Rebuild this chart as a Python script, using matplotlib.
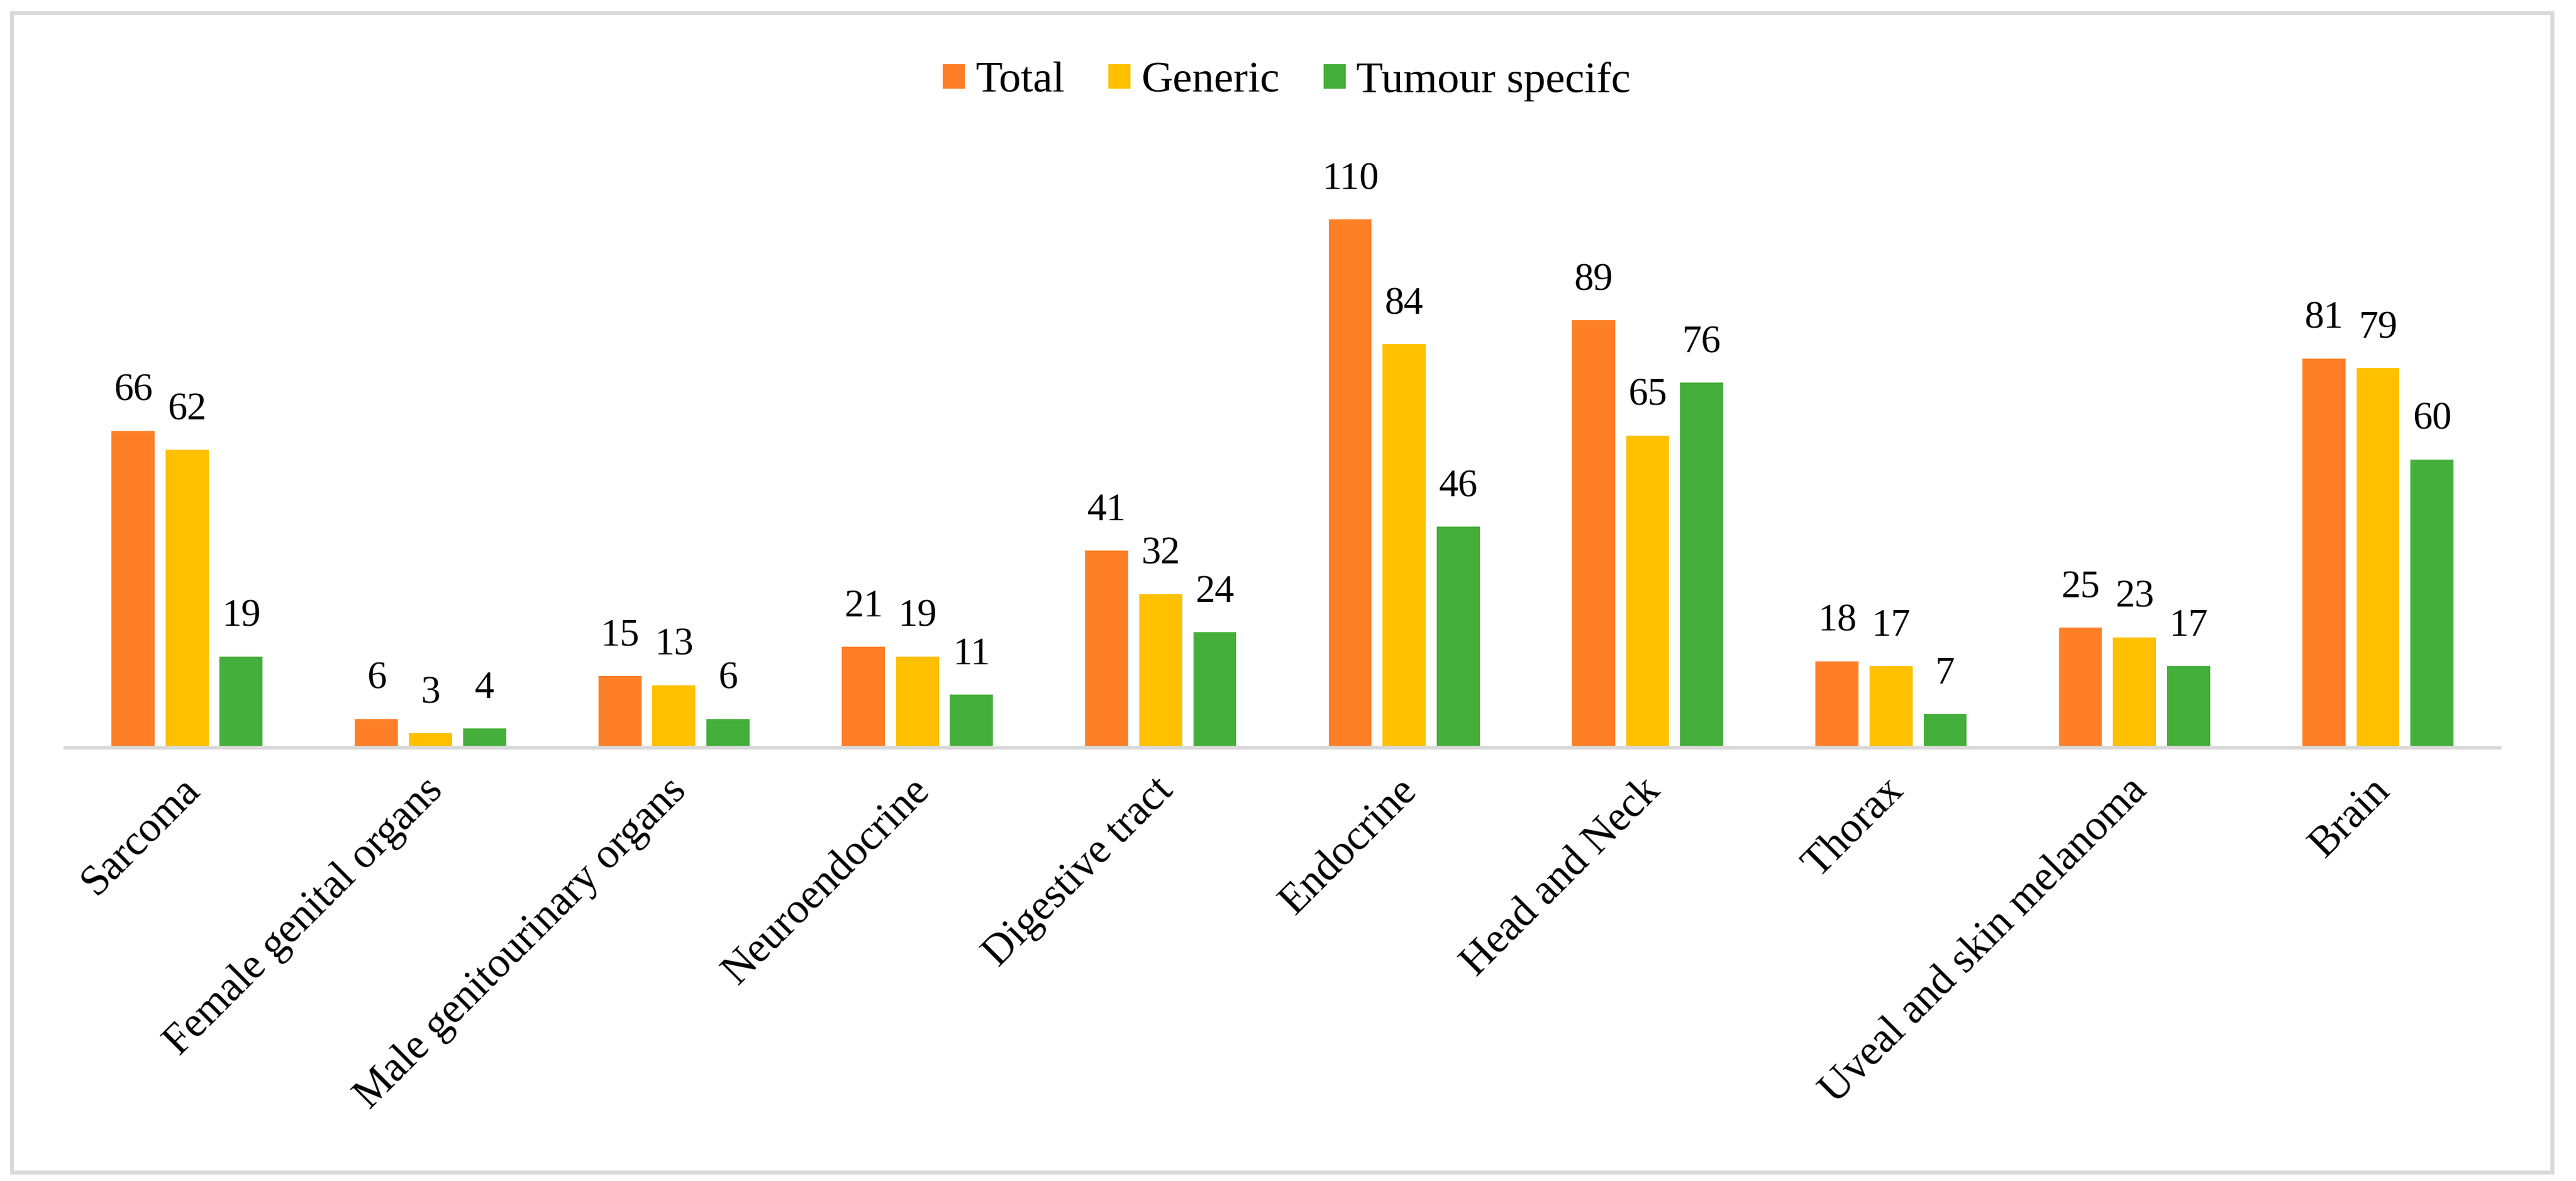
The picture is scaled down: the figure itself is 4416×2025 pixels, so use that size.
import numpy as np
import matplotlib
matplotlib.use("Agg")
import matplotlib.pyplot as plt
from matplotlib.patches import Rectangle
from matplotlib.transforms import ScaledTranslation

plt.rcParams['font.family'] = ['Liberation Serif', 'DejaVu Serif']

categories = ["Sarcoma", "Female genital organs", "Male genitourinary organs",
              "Neuroendocrine", "Digestive tract", "Endocrine", "Head and Neck",
              "Thorax", "Uveal and skin melanoma", "Brain"]
total = [66, 6, 15, 21, 41, 110, 89, 18, 25, 81]
generic = [62, 3, 13, 19, 32, 84, 65, 17, 23, 79]
tumour = [19, 4, 6, 11, 24, 46, 76, 7, 17, 60]
series_names = ["Total", "Generic", "Tumour specifc"]
colors = ["#FF7F27", "#FFC000", "#45AF3B"]

fig = plt.figure(figsize=(14.72, 6.75), dpi=300)
ax = fig.add_axes([0.02536, 0.3669, 0.945, 0.488])

x = np.arange(len(categories))
width = 0.177
step = 0.222
for i, (vals, name, c) in enumerate(zip([total, generic, tumour], series_names, colors)):
    bars = ax.bar(x + (i - 1) * step, vals, width, color=c, label=name, zorder=2)
    for b, v in zip(bars, vals):
        ax.annotate(str(v), (b.get_x() + b.get_width() / 2, v), xytext=(0, 12.5),
                    textcoords="offset points", ha="center", va="baseline",
                    fontsize=16, annotation_clip=False)

ax.set_xlim(-0.5, len(categories) - 0.5)
ax.set_ylim(0, 120)
ax.set_yticks([])
ax.set_xticks(x)
ax.set_xticklabels(categories, rotation=45, ha="right", va="top",
                   rotation_mode="anchor", fontsize=17.5)
ax.tick_params(axis="x", length=0, pad=9.5)
shift = ScaledTranslation(-3 / 72, 0, fig.dpi_scale_trans)
for lab in ax.get_xticklabels():
    lab.set_transform(lab.get_transform() + shift)
for s in ["top", "right", "left"]:
    ax.spines[s].set_visible(False)
ax.spines["bottom"].set_color("#D9D9D9")
ax.spines["bottom"].set_linewidth(1.5)
ax.patch.set_alpha(0)

fig.legend(loc="center", bbox_to_anchor=(0.4995, 0.931), ncol=3, frameon=False,
           fontsize=18, handlelength=0.5, handleheight=0.5, handletextpad=0.25,
           columnspacing=1.0)

# outer chart border
fig.patches.append(Rectangle((20 / 4416, 15 / 2025), 4355 / 4416, 1988 / 2025,
                             transform=fig.transFigure, fill=False,
                             edgecolor="#D9D9D9", linewidth=1.6))

fig.savefig("out.png", dpi=300)
